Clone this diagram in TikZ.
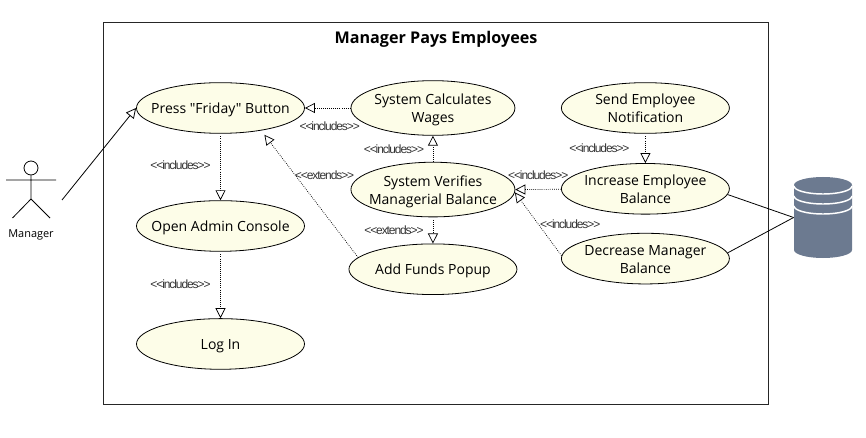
\documentclass[tikz,border=0pt]{standalone}
\usepackage{fontspec}
\setmainfont[Ligatures=TeXOff]{Open Sans}
\newfontfamily\tightfont[LetterSpace=-9,Ligatures=TeXOff]{Liberation Sans}
\usetikzlibrary{arrows.meta,positioning,shapes.geometric}
\definecolor{usecasefill}{HTML}{FDFDE8}
\definecolor{dbfill}{HTML}{6C7A90}
\newcommand{\inclabel}{<{}<includes>{}>}
\newcommand{\extlabel}{<{}<extends>{}>}
\tikzset{
  usecase/.style={draw,ellipse,fill=usecasefill,align=center,font=\fontsize{10.5}{13.5}\selectfont,inner xsep=-25pt,inner ysep=-8pt,minimum width=126pt,minimum height=38pt,line width=0.6pt,text height=10.5pt,text depth=2.4pt},
  twoline/.style={text height=24.5pt},
  dep/.style={densely dotted,line width=0.55pt,-{Triangle[open,fill=white,length=7.5pt,width=7.5pt]}},
  stereo/.style={font=\tightfont\fontsize{9}{10}\selectfont,text=black!80,inner sep=0pt}
}
\begin{document}
\begin{tikzpicture}[x=0.75pt,y=-0.75pt,node distance=2cm,on grid,line width=0.6pt]
  \useasboundingbox (0,0) rectangle (866,438);
  \draw[black!85] (103.5,22) rectangle (768,404);
  \node[font=\bfseries\fontsize{12.1}{14}\selectfont] (title) at (436,39) {Manager Pays Employees};

  \node[usecase] (press) at (220.5,108) {Press "Friday" Button};
  \node[usecase,below=3.11cm of press] (console) {Open Admin Console};
  \node[usecase,below=3.11cm of console] (login) {Log In};
  \node[usecase,twoline,right=5.6cm of press,minimum height=41pt,minimum width=123pt] (calc) {System Calculates\\Wages};
  \node[usecase,twoline,below=2.15cm of calc,minimum height=41pt,minimum width=123pt] (verify) {System Verifies\\Managerial Balance};
  \node[usecase,below=2.1cm of verify] (funds) {Add Funds Popup};
  \node[usecase,twoline,right=5.6cm of calc] (notify) {Send Employee\\Notification};
  \node[usecase,twoline,below=2.13cm of notify] (increase) {Increase Employee\\Balance};
  \node[usecase,twoline,below=1.84cm of increase] (decrease) {Decrease Manager\\Balance};

  % actor
  \node[draw,circle,minimum size=10.5pt,inner sep=0pt] (head) at (31,168) {};
  \coordinate (hip) at (31,199);
  \draw (head) -- (hip) -- (12.5,218) (hip) -- (50,218) (6,180) -- (56,180);
  \node[font=\fontsize{8.2}{10}\selectfont] (manager) at (31,234.5) {Manager};
  \coordinate (handle) at (62,200);

  % database
  \node[minimum width=43.5pt,minimum height=60pt,inner sep=0pt] (db) at (823,217.5) {};
  \fill[dbfill] (794,185) arc[start angle=180,end angle=0,x radius=29,y radius=-8] -- (852,250)
    arc[start angle=0,end angle=-180,x radius=29,y radius=-8] -- cycle;
  \foreach \y in {186,196,206}
    \draw[white,line width=1.1pt] (794,\y) arc[start angle=180,end angle=360,x radius=29,y radius=-8];

  \draw[-{Triangle[open,fill=white,length=7.5pt,width=7.5pt]}] (handle) -- (press.west);
  \draw (increase.-4) -- (db.west);
  \draw (decrease.4) -- (db.west);

  \path[dep]
    (calc) edge node[stereo,shift={(2,18)}] {\inclabel} (press)
    (press) edge[shorten <=2pt] node[stereo,shift={(-40,-2)}] {\inclabel} (console)
    (console) edge[shorten <=2pt] node[stereo,shift={(-40,-1)}] {\inclabel} (login)
    (verify) edge node[stereo,shift={(-39,0)}] {\inclabel} (calc)
    (verify) edge[shorten <=2pt] node[stereo,shift={(-39,0)}] {\extlabel} (funds)
    (notify) edge[shorten <=2pt] node[stereo,shift={(-46,0)}] {\inclabel} (increase)
    (increase) edge node[stereo,shift={(0,-14)}] {\inclabel} (verify.east)
    (decrease.178) edge node[stereo,shift={(32,0)}] {\inclabel} (verify.-2)
    (funds.171) edge[shorten >=4pt] node[stereo,shift={(15,-19)}] {\extlabel} (press.-29);
\end{tikzpicture}
\end{document}
